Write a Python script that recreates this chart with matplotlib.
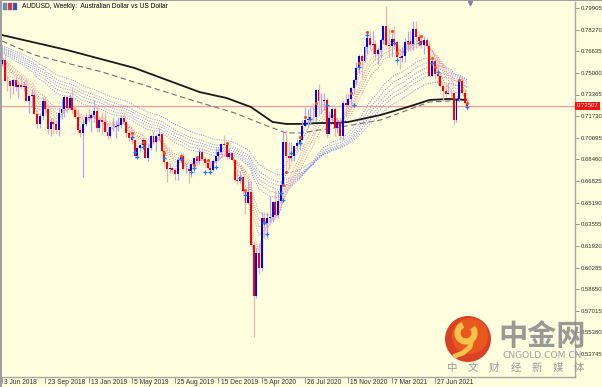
import numpy as np
import matplotlib
matplotlib.use("Agg")
import matplotlib.pyplot as plt
from matplotlib.patches import Rectangle, Circle, Arc
from matplotlib.transforms import offset_copy, blended_transform_factory

BG = "#FFFFE0"; BULL = "#0000FF"; BEAR = "#FF0000"
BULL_W = "#a8a8f4"; BEAR_W = "#f6b0b0"
SANS = ["Liberation Sans", "DejaVu Sans"]

# weekly AUDUSD bars, first week = 3 Jun 2018
first_open = 0.7570
closes = [0.7595,0.7440,0.7435,0.7400,0.7445,0.7395,0.7410,0.7395,0.7400,0.7290,
0.7325,0.7330,0.7190,0.7115,0.7175,0.7285,0.7230,0.7075,0.7125,0.7115,
0.7065,0.7195,0.7225,0.7320,0.7235,0.7310,0.7220,0.7170,0.7065,0.7045,
0.7115,0.7165,0.7160,0.7180,0.7215,0.7085,0.7140,0.7130,0.7055,0.7025,
0.7090,0.7090,0.7100,0.7105,0.7160,0.7130,0.7045,0.7005,0.6995,0.6875,
0.6935,0.6955,0.6990,0.6860,0.6930,0.7020,0.6975,0.7025,0.7035,0.6910,
0.6825,0.6770,0.6780,0.6765,0.6735,0.6845,0.6875,0.6770,0.6770,0.6760,
0.6810,0.6860,0.6830,0.6905,0.6850,0.6815,0.6780,0.6765,0.6830,0.6870,
0.6900,0.6965,0.6955,0.6865,0.6895,0.6845,0.6690,0.6680,0.6710,0.6610,
0.6515,0.6600,0.6200,0.5810,0.6140,0.6025,0.6400,0.6365,0.6400,0.6410,
0.6520,0.6425,0.6535,0.6650,0.6980,0.6870,0.6860,0.6870,0.6950,0.6970,
0.6995,0.7100,0.7140,0.7155,0.7170,0.7165,0.7370,0.7285,0.7290,0.7295,
0.7040,0.7160,0.7230,0.7080,0.7125,0.7025,0.7275,0.7255,0.7300,0.7385,
0.7445,0.7535,0.7625,0.7590,0.7695,0.7760,0.7710,0.7715,0.7645,0.7670,
0.7750,0.7855,0.7710,0.7705,0.7755,0.7730,0.7620,0.7610,0.7625,0.7730,
0.7740,0.7715,0.7835,0.7770,0.7740,0.7710,0.7750,0.7700,0.7480,0.7590,
0.7490,0.7475,0.7400,0.7365,0.7340,0.7350,0.7345,0.7145,0.7300,0.7440,
0.7350,0.7270,0.7251]
highs = [0.7677,0.7640,0.7475,0.7440,0.7453,0.7483,0.7440,0.7483,0.7435,0.7450,
0.7330,0.7380,0.7380,0.7220,0.7200,0.7315,0.7315,0.7240,0.7160,0.7160,
0.7140,0.7240,0.7300,0.7330,0.7320,0.7340,0.7395,0.7260,0.7230,0.7090,
0.7150,0.7200,0.7225,0.7200,0.7295,0.7250,0.7150,0.7205,0.7205,0.7100,
0.7100,0.7170,0.7140,0.7165,0.7180,0.7205,0.7145,0.7070,0.7040,0.6995,
0.6940,0.6965,0.7010,0.6990,0.6960,0.7030,0.7050,0.7040,0.7080,0.7035,
0.6910,0.6830,0.6815,0.6790,0.6780,0.6865,0.6895,0.6895,0.6810,0.6775,
0.6810,0.6865,0.6865,0.6930,0.6930,0.6865,0.6830,0.6800,0.6850,0.6935,
0.6930,0.6970,0.7030,0.6955,0.6935,0.6890,0.6845,0.6775,0.6755,0.6720,
0.6625,0.6685,0.6685,0.6230,0.6185,0.6215,0.6445,0.6445,0.6445,0.6570,
0.6530,0.6615,0.6615,0.6685,0.7065,0.7065,0.6975,0.6975,0.6950,0.7000,
0.7020,0.7140,0.7240,0.7230,0.7240,0.7275,0.7380,0.7415,0.7345,0.7345,
0.7310,0.7210,0.7245,0.7245,0.7160,0.7160,0.7290,0.7340,0.7340,0.7390,
0.7455,0.7580,0.7640,0.7640,0.7700,0.7820,0.7815,0.7820,0.7750,0.7685,
0.7760,0.7860,0.8005,0.7840,0.7800,0.7850,0.7750,0.7655,0.7695,0.7760,
0.7815,0.7820,0.7890,0.7890,0.7815,0.7775,0.7780,0.7775,0.7740,0.7620,
0.7615,0.7600,0.7505,0.7410,0.7415,0.7425,0.7380,0.7315,0.7310,0.7480,
0.7480,0.7375,0.7315]
lows = [0.7555,0.7437,0.7363,0.7312,0.7340,0.7360,0.7310,0.7380,0.7360,0.7290,
0.7200,0.7240,0.7190,0.7085,0.7085,0.7145,0.7200,0.7040,0.7020,0.7040,
0.7040,0.7020,0.7150,0.7165,0.7200,0.7230,0.7200,0.7160,0.7045,0.7015,
0.6715,0.7100,0.7130,0.7055,0.7130,0.7055,0.7055,0.7040,0.7050,0.7000,
0.7005,0.7060,0.7005,0.7060,0.7080,0.7120,0.7015,0.6985,0.6965,0.6860,
0.6865,0.6900,0.6940,0.6860,0.6830,0.6920,0.6965,0.6910,0.6990,0.6900,
0.6790,0.6675,0.6745,0.6740,0.6690,0.6690,0.6830,0.6765,0.6740,0.6670,
0.6715,0.6745,0.6805,0.6810,0.6840,0.6790,0.6770,0.6755,0.6755,0.6810,
0.6845,0.6890,0.6955,0.6850,0.6850,0.6830,0.6685,0.6660,0.6665,0.6585,
0.6435,0.6505,0.6190,0.5506,0.5795,0.5980,0.6000,0.6255,0.6255,0.6370,
0.6370,0.6400,0.6400,0.6520,0.6650,0.6775,0.6775,0.6835,0.6830,0.6920,
0.6920,0.6990,0.7100,0.7080,0.7110,0.7135,0.7135,0.7190,0.7190,0.7220,
0.7005,0.7040,0.7135,0.7020,0.7045,0.6990,0.6990,0.7190,0.7240,0.7265,
0.7340,0.7405,0.7500,0.7460,0.7580,0.7640,0.7675,0.7640,0.7595,0.7565,
0.7620,0.7715,0.7700,0.7620,0.7620,0.7700,0.7560,0.7530,0.7585,0.7585,
0.7675,0.7675,0.7675,0.7690,0.7705,0.7690,0.7645,0.7690,0.7475,0.7480,
0.7455,0.7410,0.7395,0.7290,0.7315,0.7345,0.7320,0.7105,0.7130,0.7280,
0.7350,0.7260,0.7220]

# slow averages (bar index, level)
black_idx = [0,24,49,73,83,92,100,105,111,117,123,128,140,150,158,165,172]
black_val = [0.7786,0.7673,0.7537,0.7355,0.7310,0.7242,0.7129,0.7114,0.7114,0.7121,
             0.7121,0.7129,0.7182,0.7242,0.7295,0.7303,0.7295]
dash_idx = [0,12,37,70,86,99,105,111,117,123,140,158,172]
dash_val = [0.7741,0.7635,0.7507,0.7295,0.7197,0.7091,0.7046,0.7046,0.7068,0.7083,
            0.7144,0.7280,0.7295]

# guppy ribbons: periods and their starting levels at the left edge
short_periods = [3,5,8,10,12,15]
short_seeds = [0.7600,0.7605,0.7610,0.7615,0.7620,0.7625]
long_periods = [30,35,40,45,50,60]
long_seeds = [0.7660,0.7670,0.7680,0.7690,0.7700,0.7710]

# signal marks (bar index, price)
blue_idx = [48,49,50,52,60,66,70,71,75,77,79,88,90,97,98,103,104,107,110,114,120,
            130,132,135,145,146,154,159,161,172]
blue_val = [0.7015,0.6902,0.6864,0.6940,0.6857,0.6849,0.6751,0.6781,0.6751,0.6751,
            0.6788,0.6705,0.6577,0.6365,0.6282,0.6592,0.6539,0.6894,0.6970,0.7151,
            0.7257,0.7257,0.7545,0.7786,0.7726,0.7597,0.7726,0.7575,0.7507,0.7242]
red_idx = [48,52,60,66,71,72,76,83,90,97,104,105,110,112,116,129,132,135,144,146,
           150,155,159,160,169,172]
red_val = [0.7045,0.6977,0.6894,0.6872,0.6804,0.6864,0.6841,0.6970,0.6615,0.6373,
           0.6652,0.6751,0.7015,0.7167,0.7272,0.7348,0.7575,0.7809,0.7817,0.7650,
           0.7726,0.7779,0.7613,0.7545,0.7446,0.7272]

price_ticks = [0.79905,0.78270,0.76635,0.75000,0.73365,0.71730,0.70095,0.68460,
               0.66825,0.65190,0.63555,0.61920,0.60285,0.58650,0.57015,0.55380,0.53745]
date_idx = [0,16,32,48,64,80,96,112,128,144,160]
date_labels = ["3 Jun 2018","23 Sep 2018","13 Jan 2019","5 May 2019","25 Aug 2019",
               "15 Dec 2019","5 Apr 2020","26 Jul 2020","15 Nov 2020","7 Mar 2021",
               "27 Jun 2021"]
last_price = 0.72507

c = np.array(closes)
o = np.concatenate([[first_open], c[:-1]])
h = np.maximum(np.array(highs), np.maximum(o, c))
l = np.minimum(np.array(lows), np.minimum(o, c))
x = np.arange(len(c))

def ema(vals, n, seed):
    a = 2.0/(n+1); v = seed; out = []
    for p in vals:
        v = v + a*(p - v); out.append(v)
    return np.array(out)

W, H = 602, 387
fig = plt.figure(figsize=(W/100, H/100), dpi=100, facecolor=BG)
ax = fig.add_axes([2/W, 10/H, 573/W, 375/H], facecolor=BG)

for n, s in zip(long_periods, long_seeds):
    ax.plot(x, ema(c, n, s), color="#8c8cf0", lw=0.7, ls=(0, (1, 1.4)), zorder=2)
for n, s in zip(short_periods, short_seeds):
    ax.plot(x, ema(c, n, s), color="#f28a8a", lw=0.7, ls=(0, (1, 1.4)), zorder=2)
ax.plot(dash_idx, dash_val, color="#707070", lw=0.8, ls=(0, (5, 3)), zorder=2.5)
ax.plot(black_idx, black_val, color="#1a1a1a", lw=1.3, zorder=2.6)

ax.axhline(last_price, color="#f59a9a", lw=0.9, zorder=1.5)

up = c >= o
ax.vlines(x[up], l[up], h[up], colors=BULL_W, lw=0.9, zorder=3)
ax.vlines(x[~up], l[~up], h[~up], colors=BEAR_W, lw=0.9, zorder=3)
body_lo = np.minimum(o, c); body_h = np.maximum(np.abs(c - o), 0.0004)
ax.bar(x[up], body_h[up], bottom=body_lo[up], width=0.72, color=BULL, lw=0, zorder=4)
ax.bar(x[~up], body_h[~up], bottom=body_lo[~up], width=0.72, color=BEAR, lw=0, zorder=4)

ax.scatter(red_idx, red_val, s=5, color="#ff4a1a", lw=0, zorder=5)
ax.scatter(blue_idx, blue_val, s=9, marker="+", color="#1e78ff", lw=0.9, zorder=5)

per_px = (price_ticks[0] - price_ticks[-1]) / 346.0
ax.set_ylim(price_ticks[0] - 369*per_px, price_ticks[0] + 6*per_px)
ax.set_xlim((2-1)/2.71, (575-1)/2.71)

ax.yaxis.tick_right()
ax.set_yticks(price_ticks)
ax.set_yticklabels([f"{p:.5f}" for p in price_ticks], family=SANS)
ax.tick_params(axis="y", length=3, width=0.6, color="#808080", labelsize=4.3,
               pad=1, labelcolor="#303030")
ax.set_xticks(date_idx)
ax.set_xticklabels(date_labels, family=SANS)
ax.tick_params(axis="x", length=4, width=0.6, color="#808080", labelsize=4.8,
               pad=-2.4, labelcolor="#303030")
for t in ax.get_xticklabels():
    t.set_ha("left")
    t.set_transform(offset_copy(t.get_transform(), fig=fig, x=1.6, y=0, units="points"))
for s in ["top", "left"]:
    ax.spines[s].set_visible(False)
for s in ["right", "bottom"]:
    ax.spines[s].set_color("#a8a8a0"); ax.spines[s].set_linewidth(1.0)

tr = blended_transform_factory(ax.transAxes, ax.transData)
ax.text(1.003, last_price, f"{last_price:.5f}", transform=tr, fontsize=4.3,
        color="white", ha="left", va="center", zorder=10, family=SANS,
        bbox=dict(boxstyle="square,pad=0.25", fc="#ff1010", ec="none"))

# overlay in pixel units: frame, title, watermark
ov = fig.add_axes([0, 0, 1, 1], facecolor="none")
ov.set_xlim(0, W); ov.set_ylim(H, 0); ov.axis("off")
ov.add_patch(Rectangle((0, 0), 2, H, color="#a0a0a0", lw=0))
ov.add_patch(Rectangle((0, 0), W, 1.2, color="#a0a0a0", lw=0))
ov.plot([470], [2.5], marker="v", ms=3, color="#8080a0")
for k, col in enumerate(["#6a8ad8", "#e03030", "#3050d0"]):
    ov.add_patch(Rectangle((3 + k*5, 3), 4, 7, fc=col, ec="#808080", lw=0.3))
ov.text(22, 6.5, "AUDUSD, Weekly:  Australian Dollar vs US Dollar", fontsize=4.8,
        color="black", ha="left", va="center", family=SANS)

ov.add_patch(Circle((468, 339), 23, color="#d8361c", lw=0, alpha=0.95))
ov.add_patch(Circle((470, 336), 18, color="#ea5a1e", lw=0, alpha=0.9))
ov.add_patch(Arc((466, 333), 17, 17, theta1=-40, theta2=250, color="#f6c24a", lw=4.5))
ov.plot([472, 470, 463, 455], [338, 347, 353, 356], color="#f6c24a", lw=3.5,
        solid_capstyle="round")
ov.text(542, 336, "中金网", fontsize=21, fontweight="bold", color="#8e8e8e", alpha=0.9,
        ha="center", va="center", family=["Noto Sans CJK SC", "DejaVu Sans"])
ov.text(542, 355.5, "CNGOLD.COM.CN", fontsize=6.6, color="#a0a0a0", ha="center",
        va="center")
for cx, ch in zip(np.linspace(452, 579, 7), "中文财经新媒体"):
    ov.text(cx, 368, ch, fontsize=7.5, color="#9a9a9a", ha="center", va="center",
            family=["Noto Sans CJK SC", "DejaVu Sans"])

fig.savefig("out.png", dpi=100, facecolor=BG)
